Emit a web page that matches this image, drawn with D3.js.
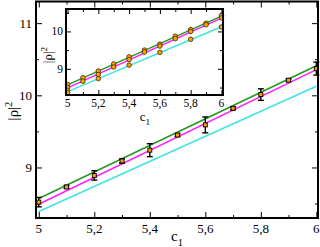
<!DOCTYPE html>
<html>
<head>
<meta charset="utf-8">
<script src="https://cdn.jsdelivr.net/npm/d3@7"></script>
<style>
  body { margin: 0; background: #fff; }
  svg { display: block; font-family: "Liberation Serif", "DejaVu Serif", serif; }
</style>
</head>
<body>
<div id="chart"></div>
<script>
// main panel: averaged points with error bars
var c1Values = [5, 5.1, 5.2, 5.3, 5.4, 5.5, 5.6, 5.7, 5.8, 5.9, 6];
var rhoMean = [8.52, 8.73, 8.89, 9.09, 9.24, 9.45, 9.59, 9.82, 10.01, 10.21, 10.37];
var rhoErr = [0.065, 0.02, 0.065, 0.03, 0.09, 0.02, 0.11, 0.02, 0.08, 0.02, 0.09];

// inset: individual samples at each c1
var insetSamples = [
  [8.58, 8.50, 8.42, 8.36],
  [8.76, 8.67],
  [8.94, 8.85, 8.74],
  [9.13, 9.05],
  [9.32, 9.25, 9.10],
  [9.50, 9.45],
  [9.66, 9.61, 9.44],
  [9.87, 9.81],
  [10.05, 10.00, 9.79],
  [10.22, 10.18],
  [10.42, 10.36, 10.12]
];

// fitted lines (value at c1 = 5 and c1 = 6)
var fitNames = ["green", "magenta", "cyan"];
var fitStart = [8.57, 8.49, 8.39];
var fitEnd = [10.41, 10.355, 10.125];
var fitColors = ["#1f9a1f", "#ff1cff", "#3fe3e3"];

var xMajor = [5, 5.2, 5.4, 5.6, 5.8, 6];
var xMinor = [5.1, 5.3, 5.5, 5.7, 5.9];
var mainYMajor = [9, 10, 11];
var mainYMinor = [8.5, 9.5, 10.5];
var insetYMajor = [9, 10];
var insetYMinor = [8.5, 9.5, 10.5];

var W = 320, H = 247;
var svg = d3.select("#chart").append("svg").attr("width", W).attr("height", H);

var commaFmt = d3.formatLocale({decimal: ",", thousands: ".", grouping: [3], currency: ["", ""]}).format("~g");

function panel(opt) {
  var x = d3.scaleLinear().domain(opt.xDomain).range([opt.left, opt.right]);
  var y = d3.scaleLinear().domain(opt.yDomain).range([opt.bottom, opt.top]);
  var g = svg.append("g");

  g.append("rect")
    .attr("x", opt.left).attr("y", opt.top)
    .attr("width", opt.right - opt.left).attr("height", opt.bottom - opt.top)
    .attr("fill", "#fff");

  // inward ticks on all four sides
  function ticks(axisFn, pos, vals, len) {
    g.append("g").attr("transform", pos)
      .call(axisFn.tickValues(vals).tickSize(len).tickFormat(""))
      .call(function(s) { s.select(".domain").remove(); s.selectAll("line").attr("stroke", "#000"); });
  }
  var mj = opt.major, mn = opt.minor;
  ticks(d3.axisTop(x), "translate(0," + opt.bottom + ")", xMajor, mj);
  ticks(d3.axisTop(x), "translate(0," + opt.bottom + ")", xMinor, mn);
  ticks(d3.axisBottom(x), "translate(0," + opt.top + ")", xMajor, mj);
  ticks(d3.axisBottom(x), "translate(0," + opt.top + ")", xMinor, mn);
  ticks(d3.axisRight(y), "translate(" + opt.left + ",0)", opt.yMajor, mj);
  ticks(d3.axisRight(y), "translate(" + opt.left + ",0)", opt.yMinor, mn);
  ticks(d3.axisLeft(y), "translate(" + opt.right + ",0)", opt.yMajor, mj);
  ticks(d3.axisLeft(y), "translate(" + opt.right + ",0)", opt.yMinor, mn);

  // tick labels
  g.selectAll(".xl").data(xMajor).enter().append("text")
    .attr("x", function(d) { return x(d); })
    .attr("y", opt.bottom + opt.labelGap)
    .attr("text-anchor", "middle")
    .attr("dominant-baseline", "hanging")
    .style("font-size", opt.font + "px")
    .text(function(d) { return commaFmt(d); });
  g.selectAll(".yl").data(opt.yMajor).enter().append("text")
    .attr("x", opt.left - opt.labelGap + 1)
    .attr("y", function(d) { return y(d); })
    .attr("text-anchor", "end")
    .attr("dominant-baseline", "central")
    .style("font-size", opt.font + "px")
    .text(function(d) { return d; });

  var clip = g.append("g");
  // fitted lines
  fitNames.forEach(function(n, i) {
    clip.append("line")
      .attr("x1", x(5)).attr("y1", y(fitStart[i]))
      .attr("x2", x(6)).attr("y2", y(fitEnd[i]))
      .attr("stroke", fitColors[i]).attr("stroke-width", 1.5);
  });

  opt.draw(clip, x, y);

  g.append("rect")
    .attr("x", opt.left).attr("y", opt.top)
    .attr("width", opt.right - opt.left).attr("height", opt.bottom - opt.top)
    .attr("fill", "none").attr("stroke", "#000").attr("stroke-width", 2);

  // axis titles
  var yt = g.append("text")
    .attr("transform", "translate(" + opt.yTitle[0] + "," + opt.yTitle[1] + ") rotate(-90)")
    .attr("text-anchor", "middle")
    .style("font-size", opt.titleFont + "px");
  yt.append("tspan").text("|ρ|");
  yt.append("tspan").attr("dy", -opt.titleFont * 0.4).style("font-size", (opt.titleFont * 0.7) + "px").text("2");

  var xt = g.append("text")
    .attr("x", opt.xTitle[0]).attr("y", opt.xTitle[1])
    .attr("text-anchor", "middle")
    .style("font-size", opt.titleFont + "px");
  xt.append("tspan").text("c");
  xt.append("tspan").attr("dy", opt.titleFont * 0.3).style("font-size", (opt.titleFont * 0.7) + "px").text("1");
}

// main panel
panel({
  xDomain: [4.99, 6.006], yDomain: [8.3, 11.3],
  left: 36, right: 318, top: 1.5, bottom: 218,
  yMajor: mainYMajor, yMinor: mainYMinor,
  major: 6, minor: 3, font: 13, labelGap: 5,
  titleFont: 15, yTitle: [18, 111], xTitle: [177, 241],
  draw: function(g, x, y) {
    var pts = c1Values.map(function(c, i) { return {c: c, v: rhoMean[i], e: rhoErr[i]}; });
    var eb = g.selectAll(".eb").data(pts).enter().append("g").attr("stroke", "#000").attr("stroke-width", 1.4);
    eb.append("line")
      .attr("x1", function(d) { return x(d.c); }).attr("x2", function(d) { return x(d.c); })
      .attr("y1", function(d) { return y(d.v - d.e); }).attr("y2", function(d) { return y(d.v + d.e); });
    eb.append("line")
      .attr("x1", function(d) { return x(d.c) - 3; }).attr("x2", function(d) { return x(d.c) + 3; })
      .attr("y1", function(d) { return y(d.v - d.e); }).attr("y2", function(d) { return y(d.v - d.e); });
    eb.append("line")
      .attr("x1", function(d) { return x(d.c) - 3; }).attr("x2", function(d) { return x(d.c) + 3; })
      .attr("y1", function(d) { return y(d.v + d.e); }).attr("y2", function(d) { return y(d.v + d.e); });
    g.selectAll(".pt").data(pts).enter().append("rect")
      .attr("x", function(d) { return x(d.c) - 2; })
      .attr("y", function(d) { return y(d.v) - 2; })
      .attr("width", 4).attr("height", 4)
      .attr("fill", "#ff9d00").attr("stroke", "#000").attr("stroke-width", 0.9);
  }
});

// inset panel
panel({
  xDomain: [4.99, 6.01], yDomain: [8.3, 10.6],
  left: 66, right: 223, top: 9, bottom: 95,
  yMajor: insetYMajor, yMinor: insetYMinor,
  major: 5, minor: 3, font: 11.5, labelGap: 4,
  titleFont: 13, yTitle: [52, 55], xTitle: [145, 121],
  draw: function(g, x, y) {
    var pts = [];
    insetSamples.forEach(function(arr, i) {
      arr.forEach(function(v) { pts.push({c: c1Values[i], v: v}); });
    });
    g.selectAll(".ip").data(pts).enter().append("circle")
      .attr("cx", function(d) { return x(d.c); })
      .attr("cy", function(d) { return y(d.v); })
      .attr("r", 2.3)
      .attr("fill", "#ffa000").attr("stroke", "#3a2a00").attr("stroke-width", 0.8);
  }
});
</script>
</body>
</html>
